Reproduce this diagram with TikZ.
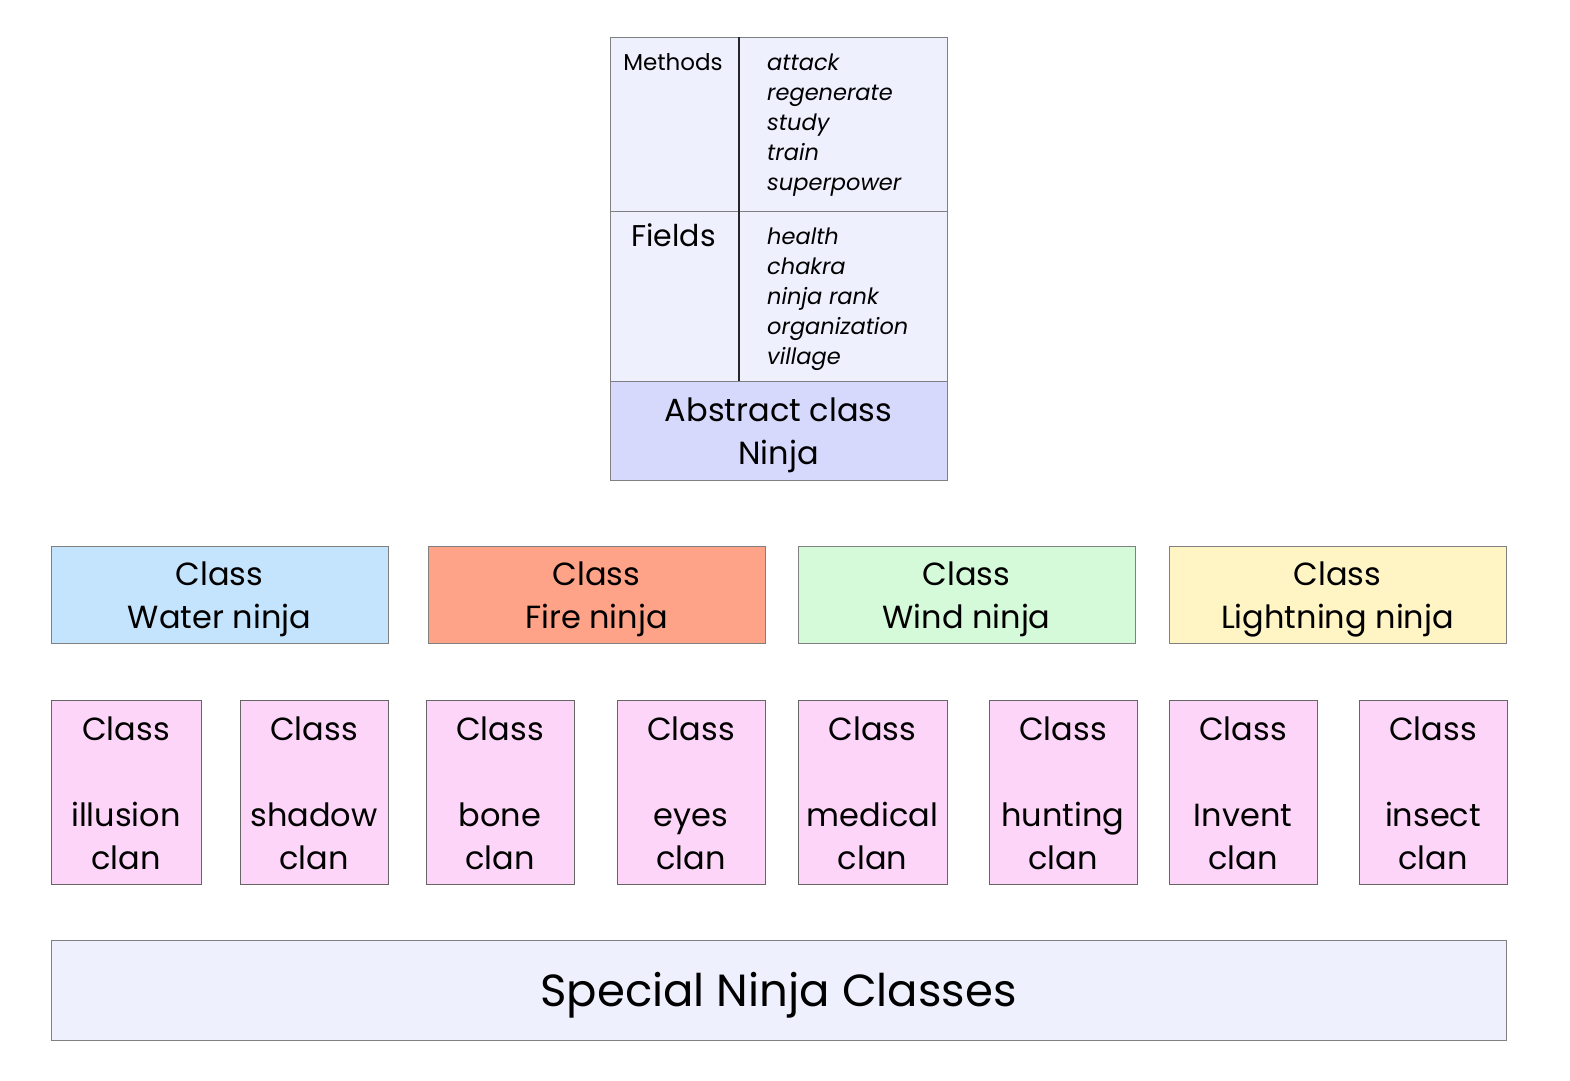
\documentclass[tikz,border=0pt]{standalone}
\usepackage{fontspec}
\setmainfont{Poppins}
\definecolor{lav}{RGB}{238,240,253}
\definecolor{abst}{RGB}{214,216,252}
\definecolor{water}{RGB}{196,228,253}
\definecolor{fire}{RGB}{255,163,136}
\definecolor{wind}{RGB}{213,250,217}
\definecolor{light}{RGB}{255,244,196}
\definecolor{pinkc}{RGB}{253,213,248}
\definecolor{bord}{RGB}{128,128,128}
\tikzset{
  boxbase/.style={draw=bord, line width=1pt, inner sep=0pt, outer sep=0pt, align=center},
  rowbox/.style={boxbase, minimum width=337pt, minimum height=97pt},
  rowtxt/.style={inner sep=0pt, align=center, font=\fontsize{32}{43}\selectfont},
  clanbox/.style={boxbase, fill=pinkc, draw=bord!80!black, minimum width=149pt, minimum height=184pt},
  itemtxt/.style={inner sep=0pt, anchor=base west, align=left, font=\fontsize{22.5}{30}\selectfont\itshape},
}
\begin{document}
\begin{tikzpicture}[x=1pt,y=-1pt]
\useasboundingbox (0,0) rectangle (1570,1080);
% top class box
\node[boxbase, fill=lav, minimum width=337pt, minimum height=174pt, anchor=north west] (meth) at (610,37) {};
\node[boxbase, fill=lav, minimum width=337pt, minimum height=170pt, anchor=north west] (fld) at (610,211) {};
\node[boxbase, fill=abst, minimum width=337pt, minimum height=99pt, anchor=north west] (abs) at (610,381) {};
\node[rowtxt] (abstxt) at (778.5,435.5) {Abstract class\\Ninja};
\coordinate (dtop) at (739,37);
\coordinate (dbot) at (739,381);
\draw[line width=1.6pt, black!85] (dtop) -- (dbot);
\node[inner sep=0pt, anchor=base, font=\fontsize{23}{30}\selectfont] (mlab) at (673,70) {Methods};
\node[inner sep=0pt, anchor=base, font=\fontsize{30}{30}\selectfont] (flab) at (673.5,246) {Fields};
\node[itemtxt] (mitems) at (767,190) {attack\\regenerate\\study\\train\\superpower};
\node[itemtxt] (fitems) at (767,364) {health\\chakra\\ninja rank\\organization\\village};
% element classes
\node[rowbox, fill=water] (water) at (219.5,594.5) {};
\node[rowbox, fill=fire] (fire) at (596.5,594.5) {};
\node[rowbox, fill=wind] (wind) at (966.5,594.5) {};
\node[rowbox, fill=light] (lightn) at (1337.5,594.5) {};
\node[rowtxt] (waterT) at (219.5,599.5) {Class\\Water ninja};
\node[rowtxt] (fireT) at (596.5,599.5) {Class\\Fire ninja};
\node[rowtxt] (windT) at (966.5,599.5) {Class\\Wind ninja};
\node[rowtxt] (lightT) at (1337.5,599.5) {Class\\Lightning ninja};
% clans
\node[clanbox, minimum width=150pt] (c1) at (126,792) {};
\node[clanbox, minimum width=148pt] (c2) at (314,792) {};
\node[clanbox, minimum width=148pt] (c3) at (500,792) {};
\node[clanbox, minimum width=148pt] (c4) at (691,792) {};
\node[clanbox, minimum width=149pt] (c5) at (872.5,792) {};
\node[clanbox, minimum width=148pt] (c6) at (1063,792) {};
\node[clanbox, minimum width=148pt] (c7) at (1243,792) {};
\node[clanbox, minimum width=148pt] (c8) at (1433,792) {};
\node[rowtxt] (c1T) at (126,793.5) {Class\\[43pt]illusion\\clan};
\node[rowtxt] (c2T) at (314,793.5) {Class\\[43pt]shadow\\clan};
\node[rowtxt] (c3T) at (500,793.5) {Class\\[43pt]bone\\clan};
\node[rowtxt] (c4T) at (691,793.5) {Class\\[43pt]eyes\\clan};
\node[rowtxt] (c5T) at (872.5,793.5) {Class\\[43pt]medical\\clan};
\node[rowtxt] (c6T) at (1063,793.5) {Class\\[43pt]hunting\\clan};
\node[rowtxt] (c7T) at (1243,793.5) {Class\\[43pt]Invent\\clan};
\node[rowtxt] (c8T) at (1433,793.5) {Class\\[43pt]insect\\clan};
% bottom
\node[boxbase, fill=lav, minimum width=1455pt, minimum height=100pt] (spec) at (778.5,990) {};
\node[inner sep=0pt, font=\fontsize{45}{50}\selectfont] (specT) at (778.5,995) {Special Ninja Classes};
\end{tikzpicture}
\end{document}
